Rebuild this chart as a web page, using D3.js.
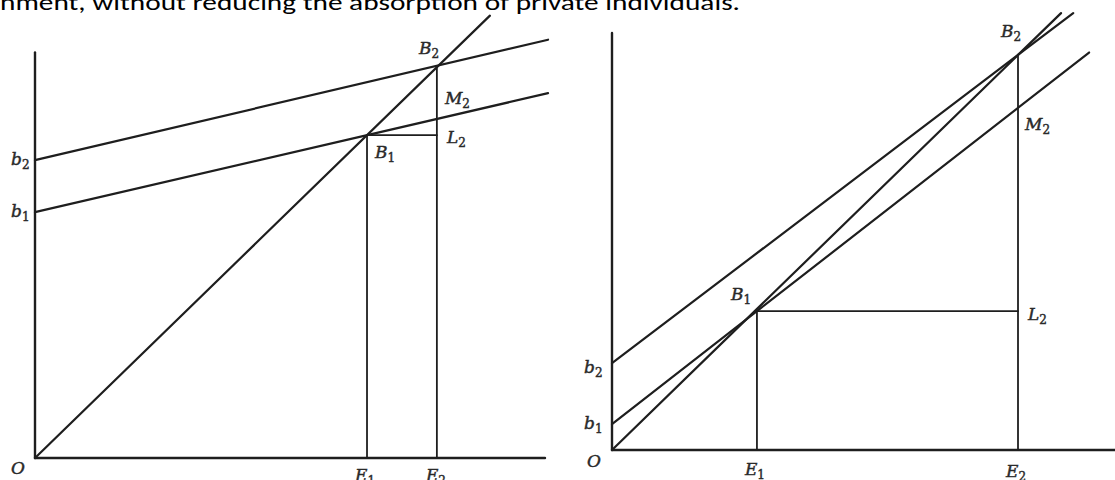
<!DOCTYPE html>
<html>
<head>
<meta charset="utf-8">
<script src="https://cdn.jsdelivr.net/npm/d3@7"></script>
<style>
  html, body { margin: 0; padding: 0; background: #fff; }
  svg { display: block; }
</style>
</head>
<body>
<div id="chart"></div>
<script>
// two B-E diagrams side by side, values in abstract units

const CAPTION = "nment, without reducing the absorption of private individuals.";

// left panel
const LEFT_AXIS_END = [10, 7.95];            // x axis end, y axis top
const LEFT_INTERCEPTS = [4.82, 5.84];        // b1, b2
const LEFT_E = [6.51, 7.88];                 // E1, E2
const LEFT_B = [6.33, 7.69];                 // height of B1, B2
const LEFT_LINE_END_X = [10.06, 10.06, 8.92]; // b1 line, b2 line, ray from O

// right panel
const RIGHT_AXIS_END = [12.4, 10.27];
const RIGHT_INTERCEPTS = [0.64, 2.14];
const RIGHT_E = [3.57, 10];
const RIGHT_B = [3.42, 9.73];
const RIGHT_LINE_END_X = [11.75, 11.36, 11.06];

const LABELS = ["O", "b1", "b2", "E1", "E2", "B1", "B2", "L2", "M2"];

const INK = "#1e1e1e";

const svg = d3.select("#chart")
  .append("svg")
  .attr("width", 1115)
  .attr("height", 480);

// caption line cut off at the top
svg.append("text")
  .attr("x", 0)
  .attr("y", 10)
  .attr("font-family", "Carlito, 'Open Sans', 'Liberation Sans', sans-serif")
  .attr("font-size", "23px")
  .attr("fill", "#000")
  .attr("textLength", 740)
  .attr("lengthAdjust", "spacingAndGlyphs")
  .text(CAPTION);

drawPanel({
  xRange: [35, 545], yRange: [458, 50], yMax: 8,
  axisEnd: LEFT_AXIS_END, b: LEFT_INTERCEPTS, e: LEFT_E, bh: LEFT_B, ends: LEFT_LINE_END_X,
  rayThrough: 0,
  off: {
    O: [-24, 16], b1: [-24, 5], b2: [-24, 5], E1: [-12, 23], E2: [-11, 23],
    B1: [8, 23], B2: [-18, -12], L2: [10, 8], M2: [8, -15]
  }
});

drawPanel({
  xRange: [612, 1018], yRange: [450, 44], yMax: 10,
  axisEnd: RIGHT_AXIS_END, b: RIGHT_INTERCEPTS, e: RIGHT_E, bh: RIGHT_B, ends: RIGHT_LINE_END_X,
  rayThrough: 1,
  off: {
    O: [-25, 17], b1: [-28, 5], b2: [-28, 10], E1: [-12, 25], E2: [-12, 27],
    B1: [-26, -11], B2: [-17, -18], L2: [10, 9], M2: [7, 22]
  }
});

function drawPanel(p) {
  const x = d3.scaleLinear().domain([0, 10]).range(p.xRange);
  const y = d3.scaleLinear().domain([0, p.yMax]).range(p.yRange);
  const g = svg.append("g");

  const seg = (x1, y1, x2, y2, w) => g.append("line")
    .attr("x1", x(x1)).attr("y1", y(y1))
    .attr("x2", x(x2)).attr("y2", y(y2))
    .attr("stroke", INK)
    .attr("stroke-width", w)
    .attr("stroke-linecap", "round");

  // axes
  seg(0, 0, p.axisEnd[0], 0, 2.4);
  seg(0, 0, 0, p.axisEnd[1], 2.4);

  // b1 line through B1, b2 line through B2
  [0, 1].forEach(i => {
    const slope = (p.bh[i] - p.b[i]) / p.e[i];
    const xe = p.ends[i];
    seg(0, p.b[i], xe, p.b[i] + slope * xe, 2.2);
  });

  // ray from O
  const rs = p.bh[p.rayThrough] / p.e[p.rayThrough];
  seg(0, 0, p.ends[2], rs * p.ends[2], 2.2);

  // drops and horizontal B1-L2
  seg(p.e[0], 0, p.e[0], p.bh[0], 1.8);
  seg(p.e[1], 0, p.e[1], p.bh[1], 1.8);
  seg(p.e[0], p.bh[0], p.e[1], p.bh[0], 1.8);

  // M2 = b1 line at E2
  const m2 = p.b[0] + (p.bh[0] - p.b[0]) / p.e[0] * p.e[1];

  const anchor = {
    O: [0, 0], b1: [0, p.b[0]], b2: [0, p.b[1]],
    E1: [p.e[0], 0], E2: [p.e[1], 0],
    B1: [p.e[0], p.bh[0]], B2: [p.e[1], p.bh[1]],
    L2: [p.e[1], p.bh[0]], M2: [p.e[1], m2]
  };

  // labels, a little stroke so they look as dark as the scan
  LABELS.forEach(name => {
    const a = anchor[name];
    const o = p.off[name];
    const t = g.append("text")
      .attr("x", x(a[0]) + o[0])
      .attr("y", y(a[1]) + o[1])
      .attr("font-family", "'DejaVu Serif', 'Liberation Serif', serif")
      .attr("font-style", "italic")
      .attr("font-size", "17px")
      .attr("fill", "#2a2a2a")
      .attr("stroke", "#2a2a2a")
      .attr("stroke-width", 0.45);
    t.append("tspan").text(name[0]);
    if (name.length > 1) {
      t.append("tspan")
        .attr("dy", 4)
        .attr("font-size", "12px")
        .attr("font-style", "normal")
        .text(name.slice(1));
    }
  });
}
</script>
</body>
</html>
